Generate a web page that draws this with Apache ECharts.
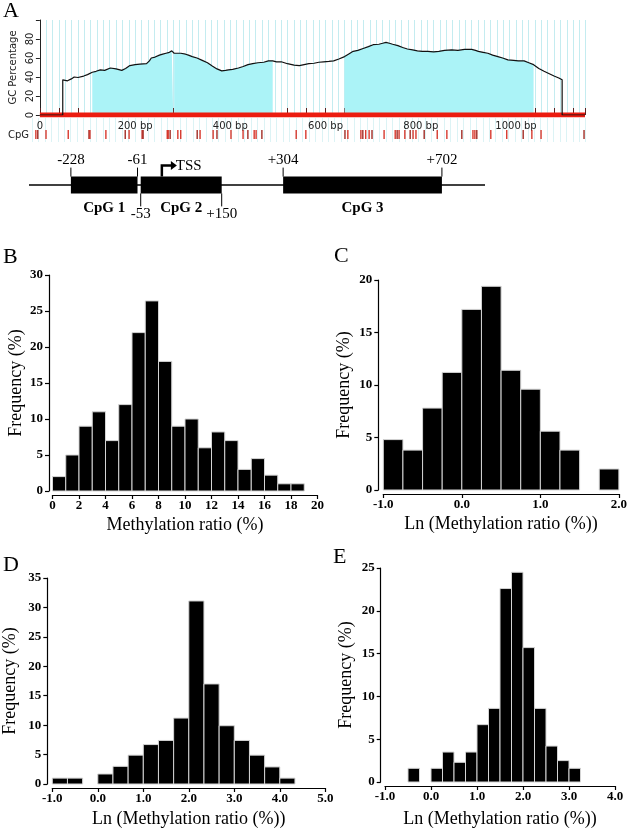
<!DOCTYPE html>
<html><head><meta charset="utf-8">
<script src="https://cdn.jsdelivr.net/npm/echarts@6/dist/echarts.min.js"></script>
<style>html,body{margin:0;padding:0;background:#fff}#c{width:630px;height:829px}</style>
</head><body><div id="c"></div>
<script>
// ---------- Panel A : GC content plot ----------
const seqLength = 1145;
const gcCurve = [
  [0,0],[48,0],[48,37],[52,37.5],[58,36],[66,38],[72,40],[80,39.5],[92,41],[100,42.5],
  [110,45],[118,46],[127,47.5],[136,47],[148,49.5],[160,48.5],[172,47],[180,49],[189,52],[200,53],
  [210,53.5],[224,54],[230,57],[234,60],[242,61],[251,63],[258,64],[265,65],[272,66],[277,67.5],
  [280,66],[282,65],[286,64.5],[296,65],[306,64],[312,63],[320,61.5],[330,60],[341,57.5],[352,55],
  [362,51.5],[372,48.5],[382,46.5],[390,47],[396,47.5],[405,48],[417,49.5],[427,51],[437,53],[447,54],
  [458,55],[470,55.5],[480,57],[489,57],[497,56],[507,56],[520,54],[534,52.5],[545,52],[555,53],
  [565,54],[576,54.5],[586,55.5],[596,56],[607,56.5],[617,57],[628,59],[640,61.5],[648,64],[658,67],
  [668,68],[679,70],[690,72],[700,74],[712,74.5],[720,75.5],[727,76.5],[734,75.5],[741,74.5],[752,73],
  [762,71],[772,69.5],[783,68.5],[793,67.5],[803,67],[815,67],[827,66.5],[838,67],[850,68],[865,68.5],
  [878,68],[892,69],[907,69],[915,68],[921,67],[931,66],[941,65],[951,63],[962,61.5],[972,60],
  [983,58],[995,57.5],[1005,57],[1017,57],[1027,55],[1037,53],[1048,49],[1059,46],[1070,43.5],[1080,41],
  [1090,39],[1097,37],[1097,0],[1145,0]
];
const cpgIslandRanges = [[110,280],[282,489],[640,1037]];
const cpgSites = [8,12,29,75,118,120,153,193,201,228,230,280,282,286,302,308,342,348,375,383,
  412,437,447,460,464,476,547,567,648,654,681,685,691,698,704,729,752,756,760,772,783,789,795,
  812,839,859,890,913,917,921,950,983,1017,1035,1054,1143];

// ---------- Panel A : gene diagram ----------
const diagramRange = [-333, 810];
const islandNames = ['CpG 1','CpG 2','CpG 3'];
const islandStart = [-228,-53,304];
const islandEnd = [-61,150,702];
const islandLabelSide = ['top','bottom','top'];
const tssPosition = 0;

// ---------- Panels B-E : histograms ----------
const bBinStart = 0, bBinWidth = 1;
const bFreq = [2,5,9,11,7,12,22,26.4,18,9,10,6,8.2,7,3,4.5,2.2,1,1];
const cBinStart = -1, cBinWidth = 0.25;
const cFreq = [4.8,3.8,7.8,11.2,17.2,19.4,11.4,9.6,5.6,3.8,0,2.0];
const dBinStart = -1, dBinWidth = 1/3;
const dFreq = [1.0,1.0,0,1.7,3.0,4.9,6.7,7.4,11.2,31.1,17.0,9.9,7.4,4.9,2.9,1.0];
const eBinStart = -1, eBinWidth = 0.25;
const eFreq = [0,0,1.6,0,1.6,3.5,2.3,3.5,6.7,8.6,22.6,24.5,15.7,8.6,4.2,2.5,1.6];

const SERIF = '"Liberation Serif","Times New Roman",serif';
const SANS = '"DejaVu Sans",Verdana,sans-serif';

function bins(start, w, freq){ return freq.map((f,i)=>[start+i*w, start+(i+1)*w, f]); }
function histItem(params, api){
  const v = api.value(2);
  if (!v) return null;
  const a = api.coord([api.value(0), v]);
  const b = api.coord([api.value(1), 0]);
  return {type:'rect', shape:{x:a[0], y:a[1], width:b[0]-a[0], height:b[1]-a[1]},
          style:{fill:'#000', stroke:'#d4d4d4', lineWidth:1}};
}
const tickLabel = {fontFamily:SERIF, fontSize:13, fontWeight:'bold', color:'#000'};
function histX(gi, min, max, interval, name, gap, dec){
  return {type:'value', gridIndex:gi, min, max, interval, position:'bottom', offset:4,
    axisLine:{show:true, onZero:false, lineStyle:{color:'#000', width:1.2}},
    axisTick:{show:true, length:4, lineStyle:{color:'#000', width:1.2}},
    axisLabel:Object.assign({margin:4, formatter:v=>dec?v.toFixed(1):String(v)}, tickLabel),
    splitLine:{show:false},
    name, nameLocation:'middle', nameGap:gap,
    nameTextStyle:{fontFamily:SERIF, fontSize:18, color:'#000'}};
}
function histY(gi, max, gap, off){
  return {type:'value', gridIndex:gi, min:0, max, interval:5, offset:off, position:'left',
    axisLine:{show:true, onZero:false, lineStyle:{color:'#000', width:1.2}},
    axisTick:{show:true, length:4, lineStyle:{color:'#000', width:1.2}},
    axisLabel:Object.assign({margin:6}, tickLabel),
    splitLine:{show:false},
    name:'Frequency (%)', nameLocation:'middle', nameGap:gap, nameRotate:90,
    nameTextStyle:{fontFamily:SERIF, fontSize:18, color:'#000'}};
}
function histSeries(ai, data){
  return {type:'custom', xAxisIndex:ai, yAxisIndex:ai, data, encode:{x:[0,1], y:2},
          renderItem:histItem, silent:true};
}

const vLine = {color:'#c4ecf0', width:1};
const fmtPos = v => (v>0?'+':'')+v;

const option = {
  animation:false,
  backgroundColor:'#fff',
  title:[
    {text:'A', left:3, top:0},
    {text:'B', left:3, top:246},
    {text:'C', left:334, top:245},
    {text:'D', left:3, top:554},
    {text:'E', left:333, top:546},
    {text:'CpG', left:8, top:130, textStyle:{fontFamily:SANS, fontSize:10, fontWeight:'normal', color:'#222'}}
  ].map(t=>Object.assign({padding:0, textStyle:{fontFamily:SERIF, fontSize:22, fontWeight:'normal', color:'#000'}}, t)),
  grid:[
    {left:32, top:20, width:553, height:95},
    {left:32, top:118, width:553, height:24},
    {left:29, top:150, width:456, height:70},
    {left:52.5, top:275, width:265, height:216},
    {left:383.3, top:280, width:236.3, height:210},
    {left:52.3, top:578, width:273, height:207},
    {left:385, top:568, width:230, height:217}
  ],
  xAxis:[
    {type:'value', gridIndex:0, min:0, max:seqLength, interval:40,
     axisLine:{show:false}, axisTick:{show:true, inside:true, length:7, lineStyle:{color:'#5a2222', width:1}},
     axisLabel:{margin:6, fontFamily:SANS, fontSize:10, color:'#222',
       formatter:v=> (v%200===0 && v<=1000) ? (v===0?'0':v+' bp') : ''},
     splitLine:{show:true, lineStyle:vLine},
     minorTick:{show:false, splitNumber:3},
     minorSplitLine:{show:true, lineStyle:vLine}},
    {type:'value', gridIndex:1, min:0, max:seqLength, interval:40,
     axisLine:{show:false}, axisTick:{show:false}, axisLabel:{show:false},
     splitLine:{show:true, lineStyle:{color:'#dcf3f5', width:1}},
     minorTick:{show:false, splitNumber:3},
     minorSplitLine:{show:true, lineStyle:{color:'#dcf3f5', width:1}}},
    {type:'value', gridIndex:2, min:diagramRange[0], max:diagramRange[1], show:false},
    histX(3, 0, 20, 2, 'Methylation ratio (%)', 21, false),
    histX(4, -1, 2, 1, 'Ln (Methylation ratio (%))', 21, true),
    histX(5, -1, 5, 1, 'Ln (Methylation ratio (%))', 22, true),
    histX(6, -1, 4, 1, 'Ln (Methylation ratio (%))', 24, true)
  ],
  yAxis:[
    {type:'value', gridIndex:0, min:0, max:100, interval:20,
     axisLine:{show:true, onZero:false, lineStyle:{color:'#222', width:1}},
     axisTick:{show:true, length:4, lineStyle:{color:'#222'}},
     axisLabel:{rotate:90, margin:4, fontFamily:SANS, fontSize:10, color:'#222', formatter:v=>v===100?'':String(v)},
     splitLine:{show:false},
     name:'GC Percentage', nameLocation:'middle', nameRotate:90, nameGap:17,
     nameTextStyle:{fontFamily:SANS, fontSize:10, color:'#222'}},
    {type:'value', gridIndex:1, min:0, max:1, show:false},
    {type:'value', gridIndex:2, min:-5, max:5, show:false},
    histY(3, 30, 24, 3.5),
    histY(4, 20, 25, 5),
    histY(5, 35, 28, 5),
    histY(6, 25, 25, 4.3)
  ],
  series:[
    ...cpgIslandRanges.map(r=>({
      type:'line', xAxisIndex:0, yAxisIndex:0, z:2, symbol:'none', silent:true,
      data:gcCurve.filter(p=>p[0]>=r[0] && p[0]<=r[1] && p[1]>0),
      lineStyle:{width:0}, areaStyle:{color:'#abf3f7', opacity:1}
    })),
    {type:'line', xAxisIndex:0, yAxisIndex:0, z:3, symbol:'none', silent:true,
     data:[[0,0],[seqLength,0]], lineStyle:{color:'#ec1c10', width:5}},
    {type:'line', xAxisIndex:0, yAxisIndex:0, z:4, symbol:'none', silent:true,
     data:gcCurve, lineStyle:{color:'#111', width:1.2}},
    {type:'custom', xAxisIndex:1, yAxisIndex:1, silent:true, data:cpgSites.map(v=>[v]),
     encode:{x:0},
     renderItem:(params, api)=>{
       const a = api.coord([api.value(0), 0.5]);
       const b = api.coord([api.value(0), 0.125]);
       return {type:'line', shape:{x1:a[0], y1:a[1], x2:b[0], y2:b[1]},
               style:{stroke: params.dataIndex%3===1 ? '#9a1c14' : '#d42a1e', lineWidth:1.3}};
     }},
    {type:'line', xAxisIndex:2, yAxisIndex:2, symbol:'none', silent:true, z:2,
     data:diagramRange.map(v=>[v,0]), lineStyle:{color:'#000', width:1.5}},
    {type:'custom', xAxisIndex:2, yAxisIndex:2, silent:true, z:3,
     data:islandStart.map((s,i)=>[s, islandEnd[i]]), encode:{x:[0,1]},
     renderItem:(params, api)=>{
       const i = params.dataIndex;
       const s = api.value(0), e = api.value(1), side = islandLabelSide[i];
       const pT = api.coord([s, 1.2]), pB = api.coord([e, -1.2]);
       const x0 = pT[0], x1 = pB[0], yT = pT[1], yB = pB[1];
       const ch = [{type:'rect', shape:{x:x0, y:yT, width:x1-x0, height:yB-yT}, style:{fill:'#000'}}];
       [[x0,s],[x1,e]].forEach(([x,v])=>{
         if (side==='top'){
           ch.push({type:'line', shape:{x1:x, y1:yT, x2:x, y2:yT-9}, style:{stroke:'#000', lineWidth:1}});
           ch.push({type:'text', style:{text:fmtPos(v), x:x, y:yT-9, align:'center', verticalAlign:'bottom',
             fontFamily:SERIF, fontSize:15, fill:'#000'}});
         } else {
           ch.push({type:'line', shape:{x1:x, y1:yB, x2:x, y2:yB+13}, style:{stroke:'#000', lineWidth:1}});
           ch.push({type:'text', style:{text:fmtPos(v), x:x, y:yB+21, align:'center', verticalAlign:'middle',
             fontFamily:SERIF, fontSize:15, fill:'#000'}});
         }
       });
       ch.push({type:'text', style:{text:islandNames[i], x:(x0+x1)/2, y:yB+15, align:'center', verticalAlign:'middle',
         fontFamily:SERIF, fontSize:15, fontWeight:'bold', fill:'#000'}});
       return {type:'group', children:ch};
     }},
    {type:'custom', xAxisIndex:2, yAxisIndex:2, silent:true, z:4,
     data:[[tssPosition]], encode:{x:0},
     renderItem:(params, api)=>{
       const p = api.coord([api.value(0), 1.2]);
       const x = p[0], y = p[1], yA = y-11;
       return {type:'group', children:[
         {type:'polyline', shape:{points:[[x,y],[x,yA],[x+10,yA]]}, style:{stroke:'#000', lineWidth:2.5, fill:null}},
         {type:'polygon', shape:{points:[[x+9,yA-4.5],[x+15,yA],[x+9,yA+4.5]]}, style:{fill:'#000'}},
         {type:'text', style:{text:'TSS', x:x+14, y:yA, align:'left', verticalAlign:'middle',
           fontFamily:SERIF, fontSize:15, fill:'#000'}}
       ]};
     }},
    histSeries(3, bins(bBinStart, bBinWidth, bFreq)),
    histSeries(4, bins(cBinStart, cBinWidth, cFreq)),
    histSeries(5, bins(dBinStart, dBinWidth, dFreq)),
    histSeries(6, bins(eBinStart, eBinWidth, eFreq))
  ]
};
const chart = echarts.init(document.getElementById('c'), null, {renderer:'canvas'});
chart.setOption(option);
</script></body></html>
